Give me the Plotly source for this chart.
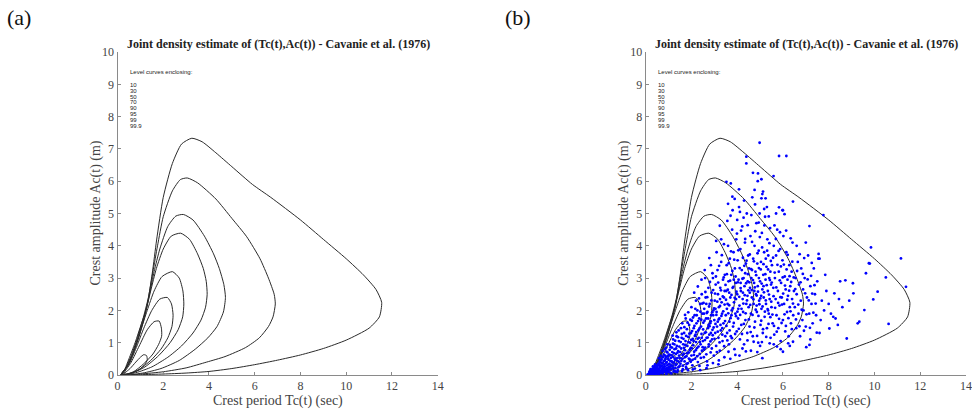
import plotly.graph_objects as go

# ---------------- data ----------------
LEVELS = ["10", "30", "50", "70", "90", "95", "99", "99.9"]

C10 = [(0.3,0.04),(0.55,0.2),(0.8,0.4),(1.0,0.55),(1.15,0.63),(1.27,0.6),(1.3,0.47),(1.2,0.33),(0.95,0.17),(0.6,0.06),(0.3,0.04)]
C30 = [(0.25,0),(0.6,0.4),(0.95,0.9),(1.3,1.4),(1.6,1.65),(1.82,1.67),(1.92,1.45),(1.93,1.2),(1.8,0.95),(1.55,0.65),(1.15,0.35),(0.7,0.1),(0.25,0)]
C50 = [(0.2,0),(0.55,0.4),(0.85,0.9),(1.15,1.45),(1.5,2.0),(1.85,2.35),(2.18,2.4),(2.36,2.2),(2.43,1.85),(2.38,1.5),(2.2,1.15),(1.9,0.8),(1.45,0.45),(0.9,0.15),(0.2,0)]
C70 = [(0.2,0),(0.5,0.35),(0.75,0.8),(1.0,1.35),(1.3,2.0),(1.6,2.6),(1.95,3.05),(2.4,3.2),(2.7,3.0),(2.86,2.6),(2.9,2.2),(2.85,1.8),(2.65,1.4),(2.3,1.0),(1.8,0.6),(1.2,0.25),(0.6,0.05),(0.2,0)]
C90 = [(0.15,0),(0.45,0.3),(0.7,0.7),(0.95,1.2),(1.2,1.85),(1.45,2.6),(1.7,3.3),(2.0,3.9),(2.35,4.3),(2.76,4.39),(3.15,4.2),(3.5,3.75),(3.75,3.3),(3.88,2.9),(3.92,2.5),(3.85,2.1),(3.65,1.7),(3.3,1.3),(2.8,0.9),(2.2,0.55),(1.5,0.25),(0.8,0.07),(0.15,0)]
C95 = [(0.15,0),(0.4,0.25),(0.65,0.65),(0.9,1.15),(1.15,1.75),(1.4,2.5),(1.6,3.2),(1.85,3.9),(2.2,4.6),(2.55,4.92),(2.88,4.97),(3.3,4.8),(3.8,4.3),(4.2,3.75),(4.45,3.3),(4.65,2.8),(4.72,2.4),(4.63,1.95),(4.35,1.5),(3.95,1.15),(3.4,0.8),(2.7,0.45),(1.9,0.2),(1.1,0.06),(0.15,0)]
C99 = [(0.15,0),(0.35,0.2),(0.6,0.6),(0.85,1.1),(1.1,1.7),(1.35,2.4),(1.55,3.2),(1.75,4.0),(2.0,4.9),(2.4,5.7),(2.75,6.05),(3.05,6.1),(3.5,5.95),(4.3,5.45),(5.0,4.85),(5.65,4.28),(6.23,3.6),(6.6,3.0),(6.85,2.5),(6.9,2.2),(6.8,1.8),(6.6,1.5),(6.2,1.15),(5.6,0.85),(4.7,0.57),(3.9,0.4),(3.0,0.22),(2.0,0.1),(1.0,0.03),(0.15,0)]
C999 = [(0.15,0),(0.3,0.15),(0.5,0.5),(0.77,1.0),(1.05,1.6),(1.28,2.1),(1.52,3.15),(1.71,4.18),(2.0,5.5),(2.4,6.55),(2.8,7.15),(3.25,7.33),(3.7,7.22),(4.3,6.88),(5.0,6.45),(5.9,5.9),(6.7,5.5),(8.0,4.8),(9.0,4.2),(10.0,3.6),(10.75,3.1),(11.3,2.65),(11.55,2.25),(11.45,1.8),(11.0,1.45),(10.0,1.08),(9.0,0.82),(8.0,0.62),(7.0,0.46),(6.0,0.32),(5.0,0.2),(4.0,0.11),(3.0,0.06),(2.0,0.03),(1.0,0.01),(0.15,0)]
CURVES = [C10, C30, C50, C70, C90, C95, C99, C999]

# observed (Tc, Ac) pairs, panel (b)
PTS_ORIGIN = [(0.12,0.02),(0.18,0.05),(0.22,0.03),(0.25,0.1),(0.28,0.06),(0.31,0.14),(0.33,0.04),(0.36,0.09),(0.38,0.18),(0.41,0.12),(0.43,0.02),(0.45,0.22),(0.47,0.07),(0.5,0.15),(0.52,0.28),(0.54,0.1),(0.56,0.19),(0.58,0.04),(0.6,0.33),(0.62,0.13),(0.64,0.24),(0.66,0.08),(0.68,0.38),(0.7,0.17),(0.72,0.29),(0.74,0.05),(0.76,0.21),(0.78,0.43),(0.8,0.12),(0.82,0.33),(0.84,0.26),(0.86,0.5),(0.88,0.09),(0.9,0.19),(0.92,0.4),(0.94,0.3),(0.96,0.58),(0.98,0.14),(1.0,0.47),(1.02,0.24),(1.04,0.35),(1.06,0.62),(1.08,0.07),(1.1,0.53),(1.12,0.18),(1.14,0.42),(1.16,0.71),(1.18,0.29),(1.2,0.56),(1.22,0.11),(1.24,0.38),(1.26,0.8),(1.28,0.47),(1.3,0.22),(1.32,0.65),(1.34,0.33),(1.36,0.9),(1.38,0.52),(1.4,0.15),(1.42,0.74),(1.44,0.41),(1.46,0.6),(1.48,0.28),(0.35,0.25),(0.55,0.35),(0.65,0.45),(0.75,0.55),(0.85,0.6),(0.95,0.7),(1.05,0.78),(1.15,0.85),(1.25,0.95),(0.5,0.05),(0.7,0.1),(0.9,0.03),(1.1,0.3),(1.3,0.1),(0.6,0.2),(0.8,0.22),(1.0,0.1),(0.45,0.3),(0.4,0.05),(0.3,0.2),(0.2,0.12),(1.45,1.05),(1.35,1.2),(1.2,1.1),(0.9,0.85)]
PTS_ORIGIN_2 = [(0.08,0.01),(0.14,0.04),(0.19,0.08),(0.23,0.01),(0.27,0.15),(0.29,0.03),(0.34,0.07),(0.37,0.21),(0.39,0.11),(0.42,0.16),(0.44,0.26),(0.46,0.01),(0.48,0.12),(0.16,0.1),(0.21,0.18),(0.32,0.27),(0.26,0.03),(0.41,0.33),(0.51,0.21),(0.53,0.08),(0.57,0.31),(0.59,0.16),(0.61,0.41),(0.63,0.06),(0.67,0.27),(0.69,0.49),(0.71,0.12),(0.73,0.36),(0.77,0.18),(0.79,0.63),(0.81,0.27),(0.83,0.45),(0.87,0.14),(0.89,0.38),(0.91,0.72),(0.93,0.22),(0.97,0.51),(0.99,0.33),(0.58,0.52),(0.66,0.59),(0.74,0.74),(0.84,0.8),(0.94,0.95),(0.62,0.29),(0.88,0.56),(0.76,0.08),(0.96,0.09),(1.01,0.63),(1.03,0.17),(1.07,0.44),(1.09,0.86),(1.11,0.27),(1.13,0.61),(1.17,0.39),(1.19,0.97),(1.21,0.21),(1.23,0.68),(1.27,0.51),(1.29,1.06),(1.31,0.31),(1.33,0.82),(1.37,0.44),(1.39,0.69),(1.41,1.17),(1.43,0.24),(1.47,0.88),(1.49,0.53),(1.06,0.93),(1.18,1.22),(1.34,1.32),(1.44,1.38),(1.12,0.05),(1.26,0.13),(1.38,0.09)]
PTS_LOW = [(1.52,0.35),(1.55,0.82),(1.57,1.15),(1.6,0.5),(1.62,0.18),(1.64,0.95),(1.66,0.66),(1.68,1.3),(1.7,0.42),(1.72,0.77),(1.74,1.05),(1.76,0.25),(1.78,0.58),(1.8,1.42),(1.82,0.9),(1.84,0.36),(1.86,1.18),(1.88,0.7),(1.9,1.55),(1.92,0.48),(1.94,1.0),(1.96,0.82),(1.98,1.3),(2.0,0.6),(2.02,1.68),(2.04,0.3),(2.06,1.12),(2.08,0.92),(2.1,1.45),(2.12,0.72),(2.14,1.85),(2.16,0.5),(2.18,1.25),(2.2,1.02),(2.22,1.6),(2.24,0.83),(2.26,2.0),(2.28,0.4),(2.3,1.38),(2.32,1.15),(2.34,1.75),(2.36,0.65),(2.38,2.2),(2.4,0.95),(2.42,1.5),(2.44,1.27),(2.46,0.75),(2.48,1.9),(1.6,1.6),(1.75,1.75),(2.0,2.1),(2.2,2.3),(2.45,2.5),(1.85,0.15),(2.15,0.2),(2.35,0.28)]
PTS_LOW_2 = [(1.51,0.71),(1.53,1.02),(1.56,0.44),(1.58,1.27),(1.61,0.62),(1.63,0.29),(1.65,1.12),(1.67,0.84),(1.69,1.48),(1.71,0.55),(1.73,0.93),(1.77,1.21),(1.79,0.34),(1.81,0.67),(1.83,1.62),(1.87,1.02),(1.89,0.51),(1.91,1.28),(1.93,0.78),(1.95,1.71),(1.97,0.41),(1.99,1.09),(1.54,1.45),(1.72,1.86),(1.86,1.94),(1.59,0.12),(1.78,0.21),(2.01,0.83),(2.03,1.36),(2.05,0.47),(2.07,1.78),(2.09,1.05),(2.11,0.62),(2.13,1.52),(2.15,1.21),(2.17,2.05),(2.19,0.77),(2.21,1.33),(2.23,1.85),(2.25,0.58),(2.27,1.12),(2.29,1.67),(2.31,0.88),(2.33,2.37),(2.35,1.44),(2.37,1.02),(2.39,1.96),(2.41,0.53),(2.43,1.71),(2.45,1.15),(2.47,2.21),(2.49,0.86),(2.12,2.55),(2.28,2.74),(2.44,2.95),(2.06,0.17),(2.38,0.15)]
PTS_MID1 = [(2.5,1.05),(2.52,1.62),(2.54,0.55),(2.56,2.05),(2.58,1.3),(2.6,0.85),(2.62,2.4),(2.64,1.75),(2.66,1.15),(2.68,0.42),(2.7,1.95),(2.72,1.45),(2.74,2.7),(2.76,0.95),(2.78,1.25),(2.8,2.2),(2.82,1.6),(2.84,0.7),(2.86,1.85),(2.88,2.55),(2.9,1.1),(2.92,1.4),(2.94,3.0),(2.96,2.0),(2.98,0.6),(3.0,1.7),(3.02,2.3),(3.04,1.3),(3.06,2.8),(3.08,0.9),(3.1,1.95),(3.12,1.5),(3.14,3.25),(3.16,2.5),(3.18,1.15),(3.2,2.1),(3.22,1.75),(3.24,0.75),(3.26,2.7),(3.28,1.38),(3.3,3.5),(3.32,2.25),(3.34,1.9),(3.36,1.05),(3.38,2.95),(3.4,1.6),(3.42,2.4),(3.44,0.55),(3.46,3.1),(3.48,1.2),(2.55,1.9),(2.65,2.2),(2.75,1.55),(2.85,1.3),(2.95,1.85),(3.05,2.05),(3.15,1.65),(3.25,2.35),(3.35,1.45),(3.45,2.6),(2.6,3.0),(2.85,3.4),(3.1,3.8),(3.3,4.2),(2.7,0.3),(3.2,0.45)]
PTS_MID1_2 = [(2.51,1.41),(2.53,2.23),(2.55,0.79),(2.57,1.68),(2.59,1.08),(2.61,2.57),(2.63,1.32),(2.65,0.64),(2.67,1.92),(2.69,2.41),(2.71,1.16),(2.73,1.75),(2.75,0.88),(2.77,2.12),(2.79,1.51),(2.81,2.88),(2.83,1.04),(2.85,1.66),(2.87,2.31),(2.89,0.82),(2.91,1.94),(2.93,1.23),(2.95,2.63),(2.97,1.47),(2.99,2.06),(2.58,3.25),(2.78,3.62),(2.92,3.15),(2.66,0.21),(2.94,0.37),(3.01,1.12),(3.03,2.52),(3.05,1.58),(3.07,3.05),(3.09,1.86),(3.11,0.71),(3.13,2.27),(3.15,1.34),(3.17,2.86),(3.19,1.72),(3.21,3.38),(3.23,1.01),(3.25,2.14),(3.27,1.55),(3.29,2.62),(3.31,1.83),(3.33,3.71),(3.35,1.25),(3.37,2.43),(3.39,1.97),(3.41,3.02),(3.43,0.89),(3.45,2.18),(3.47,1.67),(3.49,2.79),(3.08,4.15),(3.24,4.62),(3.42,4.05),(3.18,0.33)]
PTS_MID2 = [(3.5,1.85),(3.52,2.6),(3.54,3.4),(3.56,1.3),(3.58,2.2),(3.6,4.0),(3.62,2.9),(3.64,0.95),(3.66,1.65),(3.68,3.6),(3.7,2.4),(3.72,1.2),(3.74,3.1),(3.76,2.0),(3.78,4.5),(3.8,2.7),(3.82,1.5),(3.84,3.8),(3.86,2.25),(3.88,0.8),(3.9,3.3),(3.92,1.9),(3.94,2.85),(3.96,4.2),(3.98,1.35),(4.0,2.5),(4.02,3.55),(4.04,1.75),(4.06,2.95),(4.08,5.2),(4.1,2.15),(4.12,1.1),(4.14,3.9),(4.16,2.6),(4.18,1.55),(4.2,3.25),(4.22,4.6),(4.24,2.35),(4.26,1.95),(4.28,3.0),(4.3,0.95),(4.32,2.75),(4.34,4.1),(4.36,1.7),(4.38,3.45),(4.4,2.2),(4.42,5.0),(4.44,1.3),(4.46,2.9),(4.48,3.7),(3.55,2.05),(3.65,2.55),(3.75,1.85),(3.85,2.95),(3.95,2.35),(4.05,2.05),(4.15,2.85),(4.25,2.55),(4.35,3.15),(4.45,2.45),(3.6,5.3),(3.8,5.1),(4.0,4.8),(4.3,5.4),(4.1,0.6),(3.7,0.5)]
PTS_MID2_2 = [(3.51,2.33),(3.53,1.52),(3.55,3.12),(3.57,1.07),(3.59,2.64),(3.61,1.91),(3.63,3.46),(3.65,2.16),(3.67,1.38),(3.69,2.92),(3.71,1.76),(3.73,3.83),(3.75,2.48),(3.77,1.14),(3.79,3.22),(3.81,2.07),(3.83,2.73),(3.85,1.61),(3.87,3.57),(3.89,2.39),(3.91,1.27),(3.93,3.05),(3.95,1.82),(3.97,2.58),(3.99,4.38),(3.57,4.77),(3.71,4.93),(3.89,5.45),(3.62,0.72),(3.92,0.62),(4.01,1.96),(4.03,2.87),(4.05,3.86),(4.07,1.43),(4.09,2.42),(4.11,3.31),(4.13,1.86),(4.15,2.69),(4.17,4.47),(4.19,2.05),(4.21,1.27),(4.23,2.98),(4.25,3.63),(4.27,2.21),(4.29,1.58),(4.31,3.38),(4.33,2.47),(4.35,4.21),(4.37,1.91),(4.39,2.84),(4.41,3.54),(4.43,2.31),(4.45,1.07),(4.47,3.12),(4.49,2.62),(4.12,5.05),(4.28,4.87),(4.46,4.64),(4.23,0.82),(4.38,0.73)]
PTS_MID3 = [(4.5,2.1),(4.52,3.3),(4.54,1.5),(4.56,2.7),(4.58,4.3),(4.6,1.9),(4.62,3.0),(4.64,2.4),(4.66,5.5),(4.68,1.2),(4.7,3.6),(4.72,2.2),(4.74,2.85),(4.76,4.0),(4.78,1.65),(4.8,3.2),(4.82,2.5),(4.84,4.7),(4.86,1.95),(4.88,3.45),(4.9,2.75),(4.92,1.0),(4.94,3.85),(4.96,2.3),(4.98,5.0),(5.0,2.9),(5.02,1.55),(5.04,3.5),(5.06,2.05),(5.08,4.4),(5.1,2.65),(5.12,1.3),(5.14,3.1),(5.16,2.4),(5.18,3.8),(5.2,1.8),(5.22,4.9),(5.24,2.95),(5.26,2.2),(5.28,3.35),(5.3,1.45),(5.32,4.2),(5.34,2.6),(5.36,3.7),(5.38,1.9),(5.4,3.0),(5.42,2.35),(5.44,4.55),(5.46,1.15),(5.48,2.8),(4.55,2.55),(4.65,3.25),(4.75,2.6),(4.85,2.15),(4.95,3.0),(5.05,2.45),(5.15,2.75),(5.25,3.6),(5.35,2.0),(5.45,3.2),(4.6,0.75),(5.0,0.9),(5.3,5.2),(5.1,5.6),(4.9,6.0)]
PTS_MID3_2 = [(4.51,1.72),(4.53,2.87),(4.55,3.73),(4.57,2.17),(4.59,1.33),(4.61,3.28),(4.63,2.63),(4.65,4.12),(4.67,1.86),(4.69,2.94),(4.71,2.34),(4.73,3.52),(4.75,1.47),(4.77,2.71),(4.79,4.45),(4.81,2.02),(4.83,3.09),(4.85,2.46),(4.87,1.21),(4.89,3.77),(4.91,2.58),(4.93,1.83),(4.95,3.31),(4.97,2.19),(4.99,4.27),(4.62,4.95),(4.78,5.28),(4.94,4.72),(4.72,1.03),(4.88,0.71),(5.01,2.37),(5.03,3.27),(5.05,1.68),(5.07,2.83),(5.09,3.95),(5.11,2.12),(5.13,1.42),(5.15,3.43),(5.17,2.56),(5.19,4.63),(5.21,1.96),(5.23,3.12),(5.25,2.31),(5.27,1.18),(5.29,2.78),(5.31,3.85),(5.33,2.04),(5.35,3.27),(5.37,1.58),(5.39,2.49),(5.41,4.08),(5.43,2.94),(5.45,1.79),(5.47,3.53),(5.49,2.27),(5.18,5.14),(5.38,4.91),(5.08,1.02),(5.42,0.98)]
PTS_HIGH = [(5.5,2.1),(5.52,3.4),(5.55,1.6),(5.58,2.7),(5.6,4.0),(5.62,1.25),(5.65,3.0),(5.68,2.35),(5.7,3.7),(5.72,1.85),(5.75,4.5),(5.78,2.6),(5.8,1.45),(5.82,3.2),(5.85,2.15),(5.88,3.9),(5.9,1.05),(5.92,2.85),(5.95,2.4),(5.98,3.55),(6.0,1.7),(6.02,4.3),(6.05,2.2),(6.08,3.05),(6.1,1.35),(6.12,2.65),(6.15,3.8),(6.18,1.95),(6.2,2.95),(6.22,2.45),(6.25,1.2),(6.28,3.4),(6.3,2.1),(6.32,2.75),(6.35,1.6),(6.38,3.2),(6.4,2.35),(6.42,4.1),(6.45,1.85),(6.48,2.6),(5.6,0.95),(5.9,0.8),(6.3,0.9),(5.7,5.0),(6.0,5.1),(6.52,2.1),(6.55,3.0),(6.58,1.45),(6.6,2.5),(6.65,3.5),(6.68,1.9),(6.7,2.8),(6.75,1.2),(6.78,2.3),(6.8,3.3),(6.85,1.7),(6.88,2.65),(6.9,2.0),(6.95,3.0),(7.0,1.5),(7.05,2.4),(7.1,3.7),(7.15,1.9),(7.2,2.75),(7.25,2.2),(7.3,1.6),(7.35,3.3),(7.4,2.5),(7.45,1.85),(7.5,2.9),(6.6,4.0),(7.0,4.1),(7.55,3.6),(7.2,1.1)]
PTS_HIGH_2 = [(5.51,2.86),(5.54,1.87),(5.57,3.63),(5.59,2.44),(5.61,1.52),(5.64,3.17),(5.66,2.08),(5.69,4.21),(5.71,2.71),(5.73,1.34),(5.76,3.41),(5.79,2.23),(5.81,3.84),(5.83,1.74),(5.86,2.93),(5.89,2.41),(5.91,3.36),(5.94,1.61),(5.96,2.18),(5.99,3.02),(5.63,4.63),(5.87,4.42),(5.74,0.88),(6.01,2.52),(6.04,3.42),(6.07,1.88),(6.09,2.77),(6.13,1.52),(6.16,3.27),(6.19,2.33),(6.21,3.72),(6.24,1.76),(6.27,2.61),(6.29,3.06),(6.33,1.97),(6.36,2.88),(6.39,1.42),(6.41,3.51),(6.44,2.21),(6.47,3.02),(6.14,4.47),(6.34,4.23),(6.23,0.98),(6.54,2.66),(6.57,1.72),(6.62,3.22),(6.67,2.18),(6.72,1.51),(6.77,2.87),(6.82,2.02),(6.87,3.13),(6.92,1.37),(6.97,2.53),(7.03,1.88),(7.08,2.96),(7.13,2.31),(7.18,1.46),(7.23,3.07),(7.28,2.52),(7.33,1.93),(7.38,2.78),(7.43,2.21),(7.48,1.31),(6.73,3.74),(6.93,3.62),(7.26,3.47)]
PTS_OUT = [(4.98,7.19),(5.83,6.78),(6.15,6.78),(4.40,6.76),(4.40,6.55),(4.91,6.24),(4.69,6.26),(5.59,6.16),(5.06,6.06),(3.53,5.98),(3.72,5.93),(4.76,5.73),(5.13,5.68),(4.08,5.75),(3.79,5.52),(5.06,5.47),(5.24,5.47),(6.44,5.37),(7.77,4.95),(5.83,5.19),(5.98,5.1),(6.07,4.98),(7.16,4.61),(9.85,3.95),(11.16,3.61),(9.76,3.46),(7.56,3.75),(7.6,3.6),(10.5,3.02),(10.14,2.58),(9.95,2.34),(9.63,3.15),(9.8,3.45),(11.38,2.73),(10.62,1.58),(9.56,2.01),(9.08,2.53),(9.06,2.84),(8.5,2.9),(8.73,2.93),(8.25,2.53),(9.34,1.65),(9.27,1.6),(8.79,1.13),(8.03,1.44),(8.4,1.55),(8.2,1.8),(8.1,1.9),(8.3,1.75),(7.16,0.93),(7.02,0.86),(6.44,1.03),(6.0,0.72),(5.1,0.52),(7.7,2.3),(7.8,2.0),(7.9,2.6),(8.0,2.2),(7.65,1.7),(7.85,3.1),(8.6,2.1),(8.9,2.3),(7.6,1.3),(8.45,2.35)]
POINTS = (PTS_ORIGIN + PTS_ORIGIN_2 + PTS_LOW + PTS_LOW_2 + PTS_MID1 + PTS_MID1_2 + PTS_MID2 + PTS_MID2_2
          + PTS_MID3 + PTS_MID3_2 + PTS_HIGH + PTS_HIGH_2 + PTS_OUT)

X_TICKS = [0, 2, 4, 6, 8, 10, 12, 14]
Y_TICKS = [0, 1, 2, 3, 4, 5, 6, 7, 8, 9, 10]
TITLE = "Joint density estimate of (Tc(t),Ac(t)) - Cavanie et al. (1976)"
XLABEL = "Crest period Tc(t) (sec)"
YLABEL = "Crest amplitude Ac(t) (m)"
LEGEND_HEAD = "Level curves enclosing:"
PANELS = ["(a)", "(b)"]

# ---------------- figure ----------------
W, H = 972, 412
SERIF = "Liberation Serif, Times New Roman, serif"
SANS = "Liberation Sans, Arial, sans-serif"
fig = go.Figure()

for k, (xa, ya) in enumerate([("x", "y"), ("x2", "y2")]):
    for c in CURVES:
        fig.add_trace(go.Scatter(x=[p[0] for p in c], y=[p[1] for p in c], xaxis=xa, yaxis=ya,
                                 mode="lines", line=dict(color="#2a2a2a", width=1, shape="spline", smoothing=0.6),
                                 showlegend=False, hoverinfo="skip"))
    if k == 1:
        fig.add_trace(go.Scatter(x=[p[0] for p in POINTS], y=[p[1] for p in POINTS], xaxis=xa, yaxis=ya,
                                 mode="markers", marker=dict(color="#0000ff", size=2.8, line=dict(width=0)),
                                 showlegend=False))

px0 = [117.5, 645.7]
pxw = 320.2
ytop, ybot = 52, 375
axis_common = dict(showline=True, linecolor="#8a8a8a", linewidth=1, ticks="inside", ticklen=3,
                   tickcolor="#8a8a8a", showgrid=False, zeroline=False, mirror=False, automargin=False,
                   ticklabeloverflow="allow",
                   tickfont=dict(family=SERIF, size=12, color="#444"))
layout = dict(width=W, height=H, margin=dict(l=0, r=0, t=0, b=0, autoexpand=False),
              paper_bgcolor="white", plot_bgcolor="white", showlegend=False)
for k in range(2):
    sx = "" if k == 0 else "2"
    layout["xaxis" + sx] = dict(axis_common, range=[0, 14], tickvals=X_TICKS,
                                domain=[px0[k] / W, min(1.0, (px0[k] + pxw) / W)], anchor="y" + sx)
    layout["yaxis" + sx] = dict(axis_common, range=[0, 10], tickvals=Y_TICKS,
                                domain=[(H - ybot) / H, (H - ytop) / H], anchor="x" + sx)
fig.update_layout(**layout)

ann = []
for k in range(2):
    cx = (px0[k] + pxw / 2) / W
    ann.append(dict(text="<b>" + TITLE + "</b>", x=cx + 0.001, y=(H - 44) / H, xref="paper", yref="paper",
                    showarrow=False, font=dict(family=SERIF, size=12, color="#222"), xanchor="center", yanchor="middle"))
    ann.append(dict(text=XLABEL, x=cx, y=(H - 401) / H, xref="paper", yref="paper", showarrow=False,
                    font=dict(family=SERIF, size=14, color="#444"), xanchor="center", yanchor="middle"))
    ann.append(dict(text=YLABEL, x=(px0[k] - 22) / W, y=(H - 213) / H, xref="paper", yref="paper", showarrow=False,
                    textangle=-90, font=dict(family=SERIF, size=14, color="#444"), xanchor="center", yanchor="middle"))
    ann.append(dict(text=PANELS[k], x=(5 + k * 498) / W, y=(H - 18) / H, xref="paper", yref="paper", showarrow=False,
                    font=dict(family=SERIF, size=22, color="#111"), xanchor="left", yanchor="middle"))
    sx = "" if k == 0 else "2"
    ann.append(dict(text=LEGEND_HEAD, x=0.45, y=9.38, xref="x" + sx, yref="y" + sx, showarrow=False,
                    font=dict(family=SANS, size=6, color="#222"), xanchor="left", yanchor="middle"))
    for i, lv in enumerate(LEVELS):
        ann.append(dict(text=lv, x=0.45, y=8.98 - i * 0.181, xref="x" + sx, yref="y" + sx, showarrow=False,
                        font=dict(family=SANS, size=6, color="#222"), xanchor="left", yanchor="middle"))
fig.update_layout(annotations=ann)

fig.write_html("out.html")
